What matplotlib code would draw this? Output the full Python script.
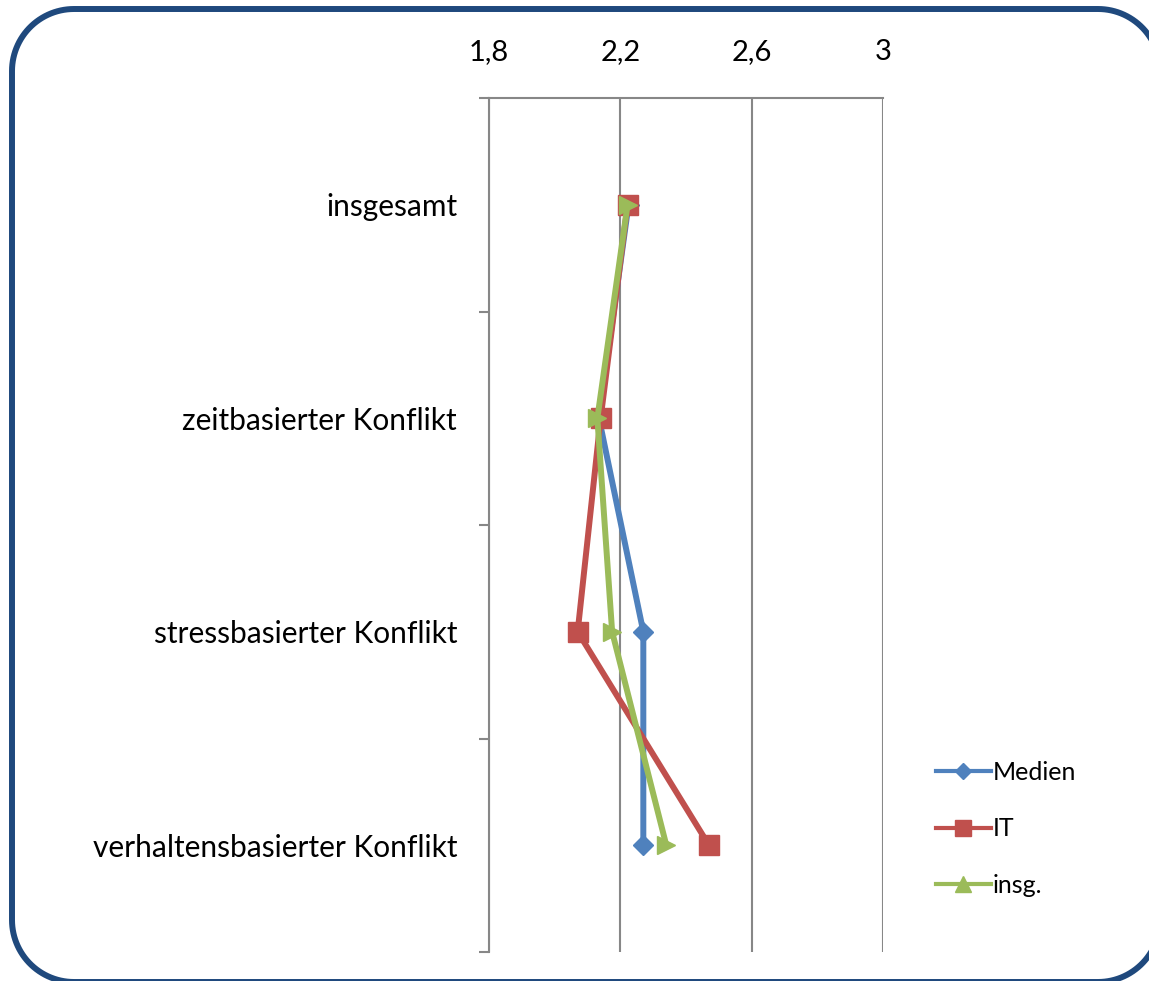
import numpy as np
import matplotlib
matplotlib.use("Agg")
from matplotlib import pyplot as plt
from matplotlib.lines import Line2D

plt.rcParams['font.family'] = ['Lato', 'DejaVu Sans']

categories = ["insgesamt", "zeitbasierter Konflikt", "stressbasierter Konflikt",
              "verhaltensbasierter Konflikt"]
medien = [2.225, 2.135, 2.27, 2.27]
it_vals = [2.222, 2.14, 2.07, 2.47]
insg = [2.222, 2.13, 2.175, 2.34]
x_ticks = [1.8, 2.2, 2.6, 3.0]
x_labels = ["1,8", "2,2", "2,6", "3"]

W, H = 1149, 981
DPI = 100
fig = plt.figure(figsize=(W / DPI, H / DPI), dpi=DPI)


def rounded_rect(x0, y0, x1, y1, r, n=30):
    # polyline outline of a rounded rectangle (pixel units)
    pts = []
    corners = [(x1 - r, y1 - r, 0), (x0 + r, y1 - r, 90),
               (x0 + r, y0 + r, 180), (x1 - r, y0 + r, 270)]
    for cx, cy, a0 in corners:
        t = np.radians(np.linspace(a0, a0 + 90, n))
        pts.extend(zip(cx + r * np.cos(t), cy + r * np.sin(t)))
    pts.append(pts[0])
    return np.array(pts)


# background axes in pixel units for the frame
bg = fig.add_axes([0, 0, 1, 1], zorder=-1)
bg.set_xlim(0, W)
bg.set_ylim(0, H)
bg.axis('off')
outline = rounded_rect(12, H - 982, 1160, H - 9, 62)
bg.plot(outline[:, 0], outline[:, 1], color="#1F497D", lw=4.3,
        solid_joinstyle="round")

ax = fig.add_axes([489 / W, 1 - 952 / H, (883 - 489) / W, (952 - 98) / H])
ax.patch.set_alpha(0)

y = np.arange(len(categories))
series = [
    ("Medien", medien, "#4F81BD", "D", 10),
    ("IT", it_vals, "#C0504D", "s", 14),
    ("insg.", insg, "#9BBB59", ">", 13),
]
for name, vals, col, mk, ms in series:
    ax.plot(vals, y, color=col, lw=4.3, marker=mk, markersize=ms,
            markeredgecolor=col, solid_joinstyle="round")

ax.set_xlim(1.8, 3.0)
ax.set_ylim(len(categories) - 0.5, -0.5)

ax.xaxis.tick_top()
ax.set_xticks(x_ticks)
ax.set_xticklabels(x_labels, fontsize=21)
ax.tick_params(axis='x', length=0, pad=24)
ax.grid(axis='x', color="#878787", lw=1.5)

ax.set_yticks(np.arange(len(categories) + 1) - 0.5)
ax.set_yticklabels([])
ax.set_yticks(y, minor=True)
ax.set_yticklabels(categories, minor=True, fontsize=21.5)
ax.tick_params(axis='y', which='major', length=7, width=1.5, color="#878787", direction='out')
ax.tick_params(axis='y', which='minor', length=0, pad=23)

for s in ['right', 'bottom']:
    ax.spines[s].set_visible(False)
for s in ['left', 'top']:
    ax.spines[s].set_color("#878787")
    ax.spines[s].set_linewidth(1.5)
ax.set_axisbelow(True)

handles = [
    Line2D([], [], color="#4F81BD", lw=3, marker="D", markersize=8),
    Line2D([], [], color="#C0504D", lw=3, marker="s", markersize=11),
    Line2D([], [], color="#9BBB59", lw=3, marker="^", markersize=11),
]
fig.legend(handles, [s[0] for s in series], loc="upper left",
           bbox_to_anchor=(913 / W, 1 - 738 / H), frameon=False,
           fontsize=18, handlelength=2.2, handletextpad=0.1, labelspacing=1.35)

fig.savefig("out.png", dpi=DPI)
